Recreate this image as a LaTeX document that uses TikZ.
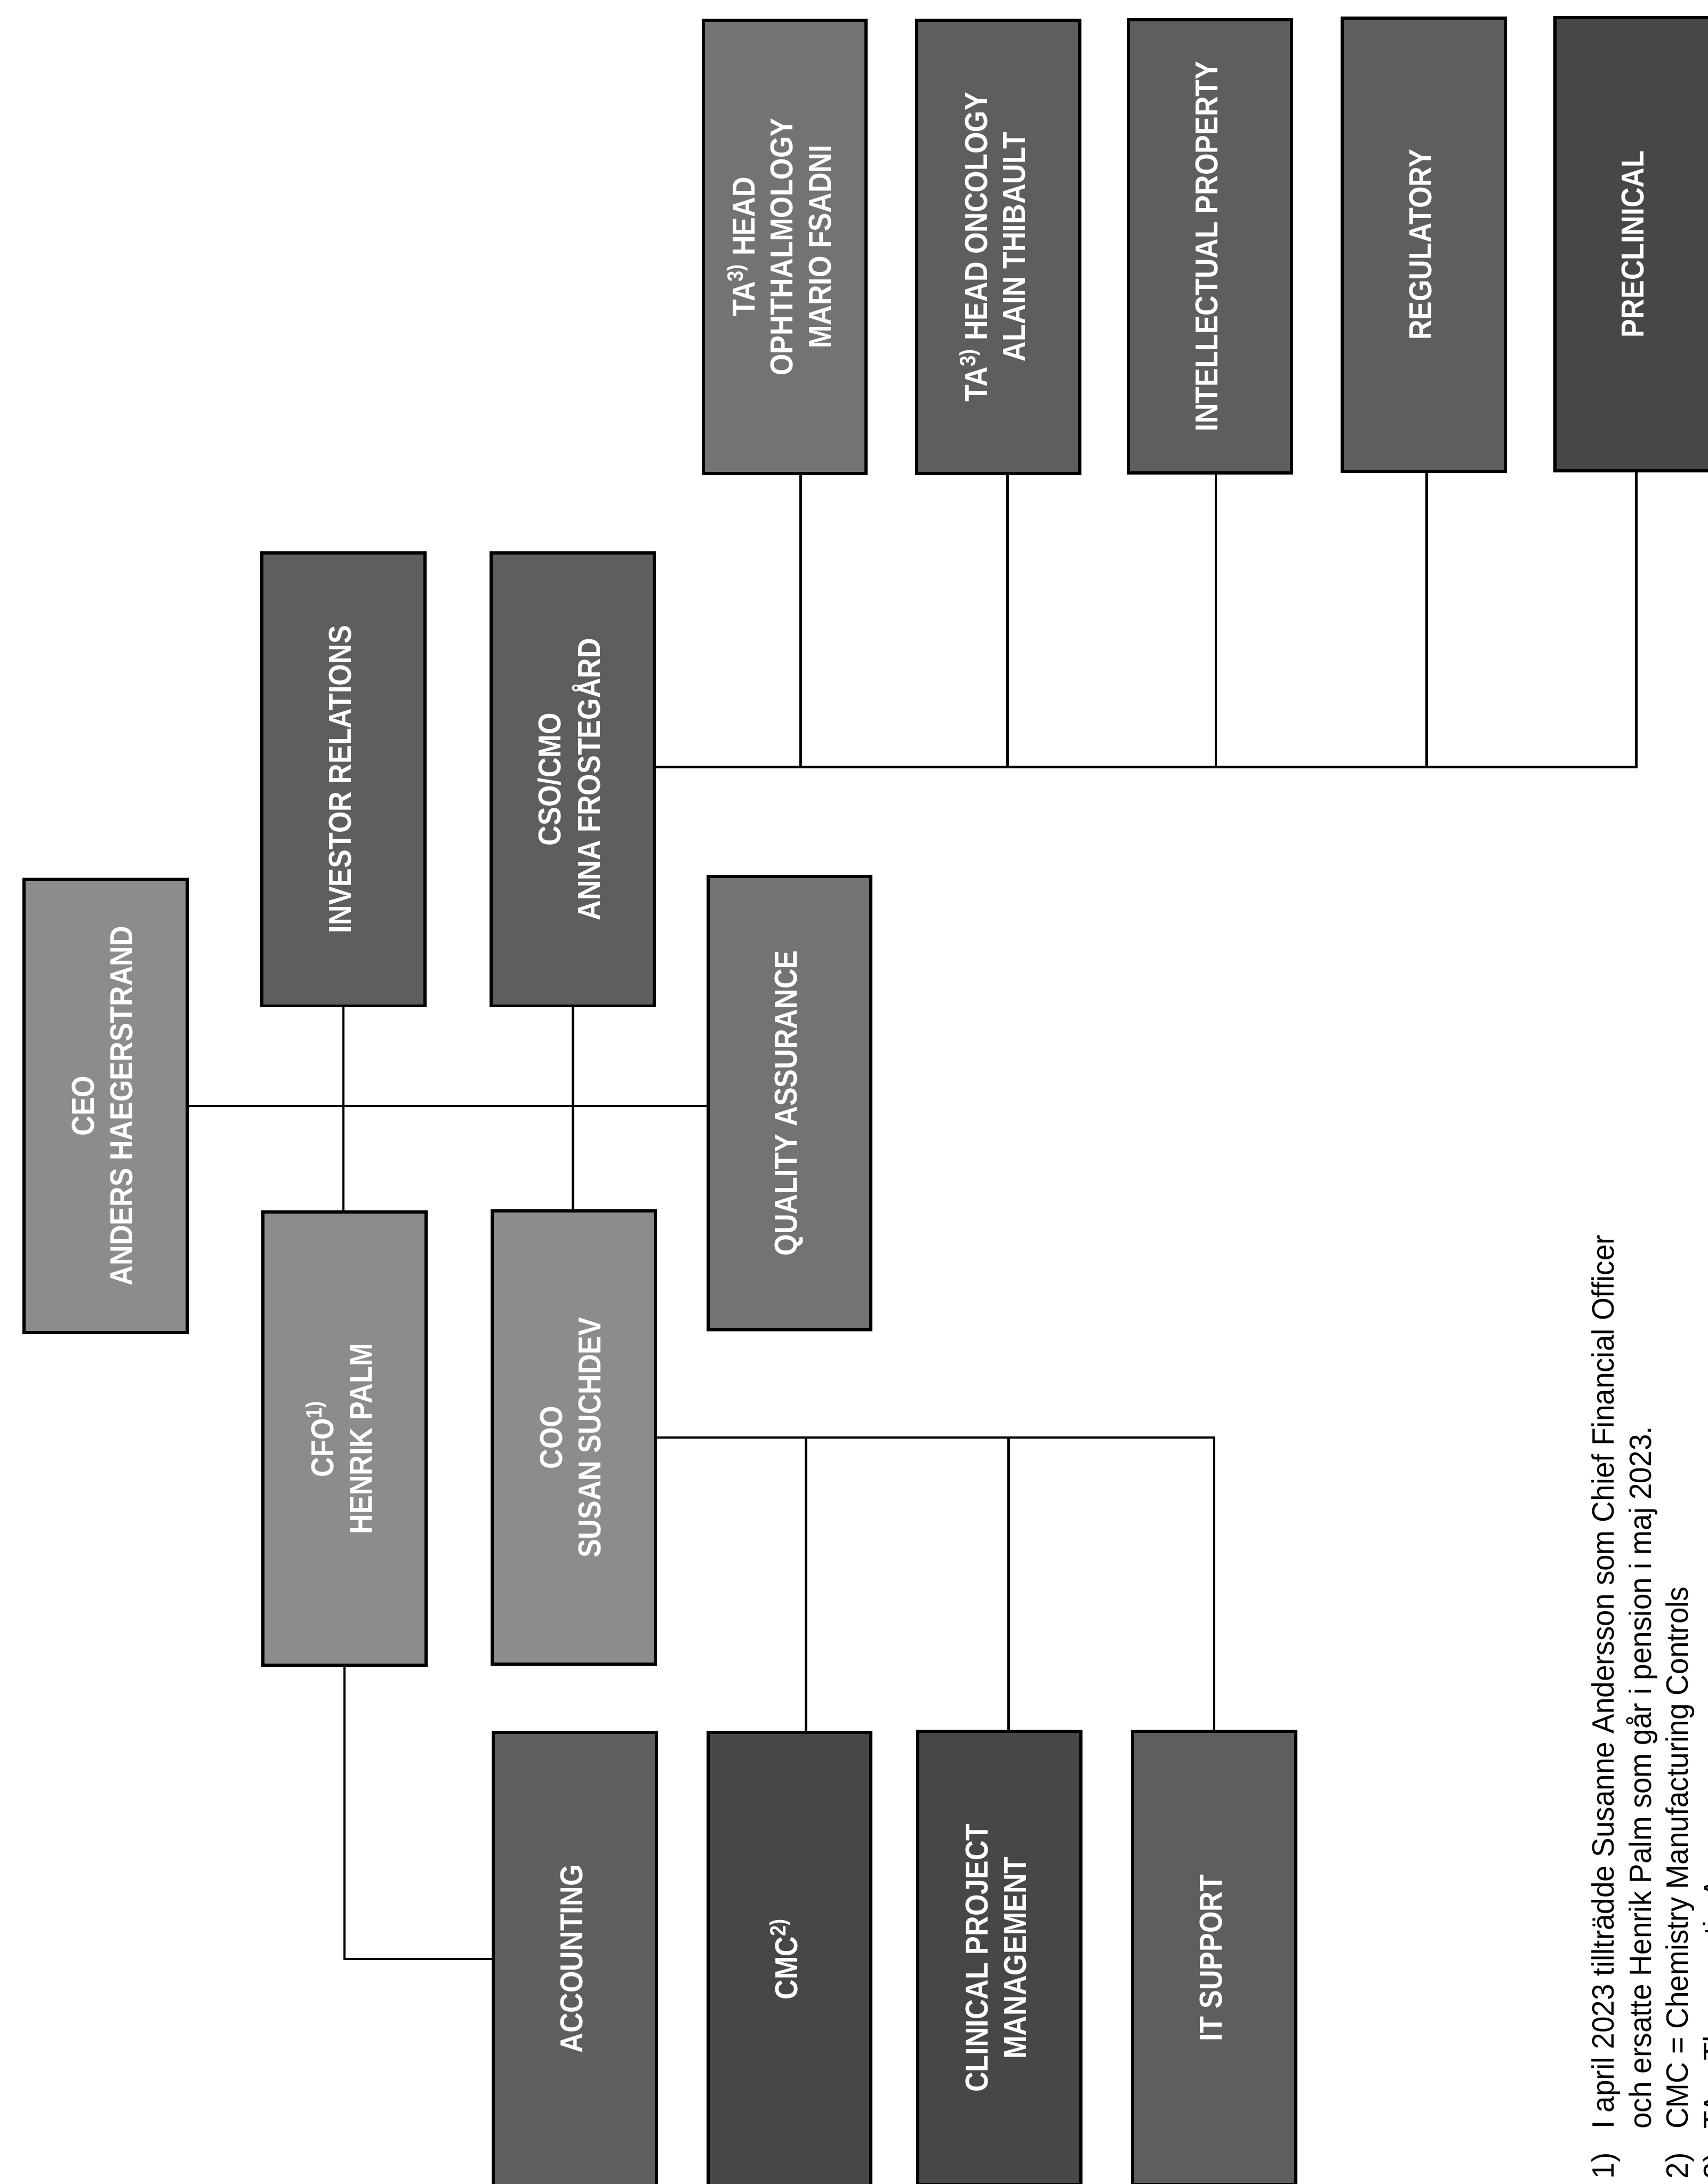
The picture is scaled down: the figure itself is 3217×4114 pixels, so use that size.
\documentclass[tikz,border=0pt]{standalone}
\usepackage{fontspec}
\usepackage{graphicx}
\setmainfont{Liberation Sans}
\newfontfamily\boxfont[FakeStretch=0.875]{Liberation Sans}
\newfontfamily\notefont[FakeStretch=0.95]{Liberation Sans}
\newcommand\rotlabel[1]{\rotatebox{90}{\begin{tabular}{@{}c@{}}#1\end{tabular}}}
\tikzset{
  orgbox/.style={draw=black, line width=1.7pt, minimum width=3.07cm, minimum height=8.53cm,
    inner sep=0pt, text=white, font=\boxfont\bfseries\fontsize{17}{20.5}\selectfont},
  light/.style={orgbox, fill=black!45},
  medium/.style={orgbox, fill=black!55},
  dark/.style={orgbox, fill=black!63},
  darker/.style={orgbox, fill=black!72},
  link/.style={line width=1.3pt, black},
  notes/.style={rotate=90, anchor=north west, inner sep=0pt,
    font=\notefont\fontsize{16.5}{19.9}\selectfont},
}
\begin{document}
\begin{tikzpicture}[x=0.01cm, y=-0.01cm]
\useasboundingbox (0,0) rectangle (3217,4114);
\clip (0,0) rectangle (3217,4114);
\fill[white] (0,0) rectangle (3217,4114);

% top level
\node[light] (ceo) at (199,2083) {\rotlabel{CEO\\ANDERS HAEGERSTRAND}};
\node[dark] (ir) at (647,1468) {\rotlabel{INVESTOR RELATIONS}};
\node[dark] (cso) at (1079,1468) {\rotlabel{CSO/CMO\\ANNA FROSTEGÅRD}};
\node[light] (cfo) at (649,2710) {\rotlabel{CFO\textsuperscript{1)}\\HENRIK PALM}};
\node[light] (coo) at (1081,2708) {\rotlabel{COO\\SUSAN SUCHDEV}};
\node[medium] (qa) at (1487,2078) {\rotlabel{QUALITY ASSURANCE}};

% CSO/CMO reports
\node[medium] (taoph) at (1478,465) {\rotlabel{TA\textsuperscript{3)} HEAD\\OPHTHALMOLOGY\\MARIO FSADNI}};
\node[dark] (taonc) at (1880,465) {\rotlabel{TA\textsuperscript{3)} HEAD ONCOLOGY\\ALAIN THIBAULT}};
\node[dark] (ip) at (2279,464) {\rotlabel{INTELLECTUAL PROPERTY}};
\node[dark] (reg) at (2682,461) {\rotlabel{REGULATORY}};
\node[darker] (precl) at (3082,460) {\rotlabel{PRECLINICAL}};

% CFO / COO reports
\node[dark] (acc) at (1083,3690) {\rotlabel{ACCOUNTING}};
\node[darker] (cmc) at (1487,3690) {\rotlabel{CMC\textsuperscript{2)}}};
\node[darker] (cpm) at (1882,3688) {\rotlabel{CLINICAL PROJECT\\MANAGEMENT}};
\node[dark] (it) at (2287,3688) {\rotlabel{IT SUPPORT}};

% connectors
\draw[link] (ceo.east) -- (ceo.east -| qa.west);
\draw[link] (ir.south) -- (ir.south |- cfo.north);
\draw[link] (cso.south) -- (cso.south |- coo.north);

\coordinate (busT) at (3082,1445);
\draw[link] (cso.east |- busT) -| (precl.south);
\draw[link] ([xshift=0.30cm]taoph.south) -- ([xshift=0.30cm]taoph.south |- busT);
\draw[link] ([xshift=0.18cm]taonc.south) -- ([xshift=0.18cm]taonc.south |- busT);
\draw[link] ([xshift=0.11cm]ip.south) -- ([xshift=0.11cm]ip.south |- busT);
\draw[link] ([xshift=0.05cm]reg.south) -- ([xshift=0.05cm]reg.south |- busT);

\draw[link] (coo.east) -| (it.north);
\draw[link] ([xshift=0.31cm]cmc.north) -- ([xshift=0.31cm]cmc.north |- coo.east);
\draw[link] ([xshift=0.18cm]cpm.north) -- ([xshift=0.18cm]cpm.north |- coo.east);
\draw[link] (cfo.south) |- (acc.west);

% footnotes
\node[notes] (note) at (2990,4105) {\begin{tabular}{@{}l@{\hspace{0.45cm}}l@{}}
1) & I april 2023 tillträdde Susanne Andersson som Chief Financial Officer\\
   & och ersatte Henrik Palm som går i pension i maj 2023.\\
2) & CMC = Chemistry Manufacturing Controls\\
3) & TA = Therapeutic Area
\end{tabular}};
\end{tikzpicture}
\end{document}
